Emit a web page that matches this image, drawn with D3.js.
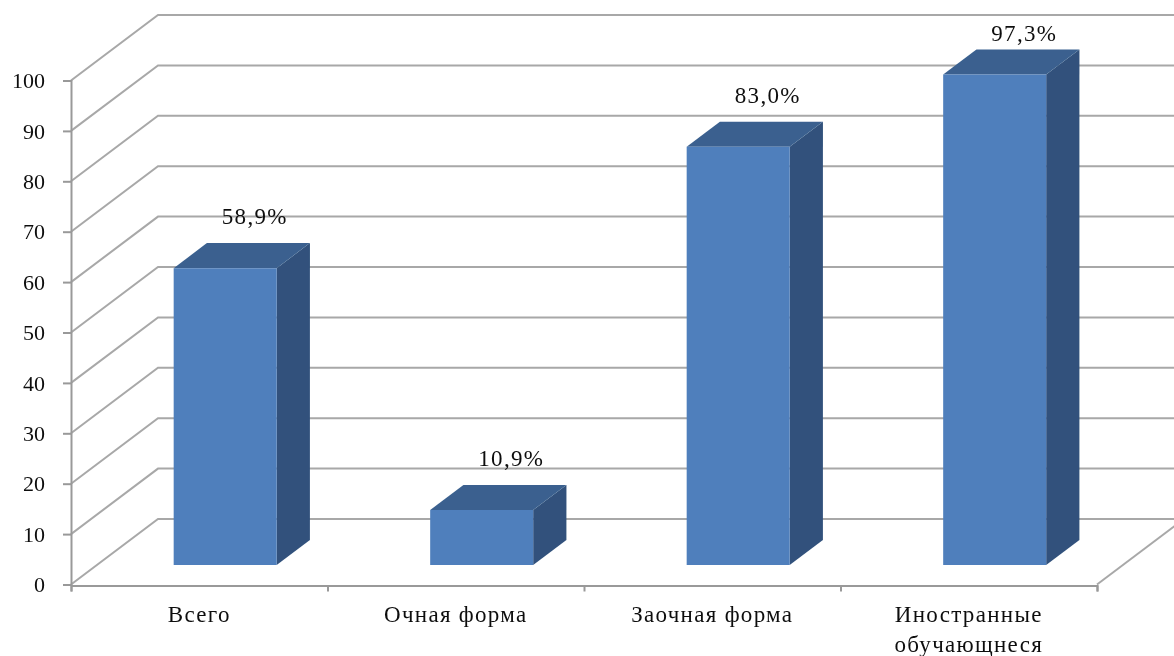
<!DOCTYPE html>
<html>
<head>
<meta charset="utf-8">
<script src="https://cdn.jsdelivr.net/npm/d3@7"></script>
<style>
    body { margin: 0; background: #fff; }
    text { font-family: "Liberation Serif", serif; fill: #111; }
</style>
</head>
<body>
<svg id="chart" width="1174" height="656"></svg>
<script>
const categories = ["Всего", "Очная форма", "Заочная форма", ["Иностранные", "обучающнеся"]];
const values = [58.9, 10.9, 83.0, 97.3];
const valueLabels = ["58,9%", "10,9%", "83,0%", "97,3%"];
const yTicks = [0, 10, 20, 30, 40, 50, 60, 70, 80, 90, 100];

const svg = d3.select("#chart");
const blur = svg.append("defs").append("filter").attr("id", "soft");
blur.append("feGaussianBlur").attr("stdDeviation", 0.7);

// front plane of the 3d box
const x = d3.scaleBand().domain(d3.range(categories.length)).range([71, 1097]);
const y = d3.scaleLinear().domain([0, 100]).range([584.5, 80.5]);
const edges = d3.scaleLinear().domain([0, 4]).range([71, 1097]);

// depth 0 = front plane, 1 = back wall
const depthX = d3.scaleLinear().domain([0, 1]).range([0, 87]);
const depthY = d3.scaleLinear().domain([0, 1]).range([0, -65.5]);
const project = (px, value, d) => [px + depthX(d), y(value) + depthY(d)];

const barWidth = 103, barFront = 0.298, barBack = 0.68;
const line = d3.line();

// 1. WALLS
const root = svg.append("g").attr("filter", "url(#soft)");
root.append("g").selectAll("path").data(yTicks).enter().append("path")
    .attr("d", t => line([project(71, t, 0), project(71, t, 1), project(1097, t, 1)]))
    .attr("fill", "none").attr("stroke", "#a8a8a8").attr("stroke-width", 2);

root.append("path")
    .attr("d", line([project(1097, 0, 0), project(1097, 0, 1)]))
    .attr("fill", "none").attr("stroke", "#a8a8a8").attr("stroke-width", 2);

// 2. AXES
const yAxis = root.append("g").attr("transform", "translate(71,0)")
    .call(d3.axisLeft(y).tickValues(yTicks).tickSize(8).tickPadding(18));
yAxis.selectAll("text").attr("font-size", 22).attr("dy", "0.33em")
    .style("font-family", '"Liberation Serif", serif');

const xAxis = root.append("g").attr("transform", "translate(0,585.5)")
    .call(d3.axisBottom(edges).tickValues([0, 1, 2, 3, 4]).tickSize(6).tickFormat(""));

root.selectAll(".domain, .tick line").attr("stroke", "#999").attr("stroke-width", 2);

// 3. BARS
const bars = root.append("g").selectAll("g").data(values).enter().append("g");

function face(i, v, pts) {
    return line(pts.map(p => {
        const left = x(i) + x.bandwidth() / 2 - barWidth / 2;
        return project(left + p[0] * barWidth, p[1] * v, p[2]);
    }));
}

bars.append("path").attr("fill", "#30517c")
    .attr("d", (v, i) => face(i, v, [[1, 0, barFront], [1, 0, barBack], [1, 1, barBack], [1, 1, barFront]]));
bars.append("path").attr("fill", "#3a618f")
    .attr("d", (v, i) => face(i, v, [[0, 1, barFront], [0, 1, barBack], [1, 1, barBack], [1, 1, barFront]]));
bars.append("path").attr("fill", "#4f7fbc")
    .attr("d", (v, i) => face(i, v, [[0, 0, barFront], [0, 1, barFront], [1, 1, barFront], [1, 0, barFront]]));

// 4. VALUE LABELS (the tallest one is squeezed against the top of the picture)
root.append("g").selectAll("text").data(values).enter().append("text")
    .attr("text-anchor", "middle").attr("font-size", 23).attr("letter-spacing", 1.3)
    .attr("x", (v, i) => x(i) + x.bandwidth() / 2 + 55.5)
    .attr("y", v => Math.max(project(0, v, barBack)[1] - 19, 41))
    .text((v, i) => valueLabels[i]);

// 5. CATEGORY LABELS
const cats = root.append("g").selectAll("text").data(categories).enter().append("text")
    .attr("text-anchor", "middle").attr("font-size", 23).attr("letter-spacing", 1.3)
    .attr("x", (c, i) => x(i) + x.bandwidth() / 2)
    .attr("y", 622);
cats.selectAll("tspan").data(c => [].concat(c)).enter().append("tspan")
    .attr("x", function() { return d3.select(this.parentNode).attr("x"); })
    .attr("dy", (d, i) => i ? 30 : 0)
    .text(d => d);
</script>
</body>
</html>
